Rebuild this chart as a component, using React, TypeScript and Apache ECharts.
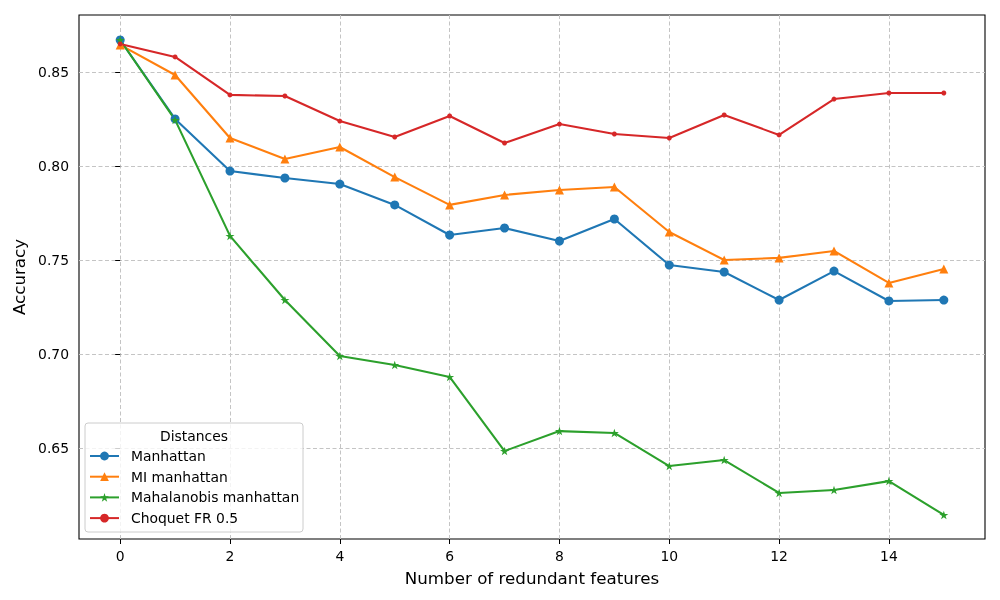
import React, { useEffect, useRef } from "react";
import * as echarts from "echarts";

const features = [0, 1, 2, 3, 4, 5, 6, 7, 8, 9, 10, 11, 12, 13, 14, 15];
const manhattan = [0.867, 0.825, 0.7973, 0.7936, 0.7904, 0.7793, 0.7633, 0.767, 0.7601, 0.7718, 0.7473, 0.7436, 0.7287, 0.7441, 0.7282, 0.7287];
const miManhattan = [0.8644, 0.8484, 0.8149, 0.8037, 0.8101, 0.7941, 0.7793, 0.7846, 0.7872, 0.7888, 0.7649, 0.75, 0.7511, 0.7548, 0.7378, 0.7452];
const mahalanobis = [0.867, 0.8245, 0.7628, 0.7287, 0.6989, 0.6941, 0.6878, 0.6484, 0.659, 0.658, 0.6404, 0.6436, 0.6261, 0.6277, 0.6324, 0.6144];
const choquet = [0.8649, 0.858, 0.8378, 0.8372, 0.8239, 0.8154, 0.8266, 0.8122, 0.8223, 0.817, 0.8149, 0.8271, 0.8165, 0.8356, 0.8388, 0.8388];
const xTicks = [0, 2, 4, 6, 8, 10, 12, 14];
const yTicks = [0.65, 0.7, 0.75, 0.8, 0.85];
const seriesNames = ["Manhattan", "MI manhattan", "Mahalanobis manhattan", "Choquet FR 0.5"];

const STAR = "path://M100 0 L122.45 69.1 L195.1 69.1 L136.3 111.8 L158.8 180.9 L100 138.2 L41.2 180.9 L63.7 111.8 L4.9 69.1 L77.55 69.1 Z";
const FONT = "DejaVu Sans";

export default function App() {
  const ref = useRef<HTMLDivElement>(null);
  useEffect(() => {
    if (!ref.current) return;
    const chart = echarts.init(ref.current, null, { renderer: "svg" });
    const pairs = (ys: number[]) => features.map((x, i) => [x, ys[i]]);
    const mk = (name: string, ys: number[], color: string, symbol: string, size: number) => ({
      name,
      type: "line",
      data: pairs(ys),
      symbol,
      symbolSize: size,
      symbolKeepAspect: true,
      showAllSymbol: true,
      lineStyle: { color, width: 2.1 },
      itemStyle: { color },
      emphasis: { disabled: true },
    });
    chart.setOption({
      animation: false,
      textStyle: { fontFamily: FONT },
      grid: { left: 79, right: 15, top: 15, bottom: 61, show: true, borderColor: "#000", borderWidth: 1.1, backgroundColor: "transparent" },
      xAxis: {
        type: "value",
        min: -0.75,
        max: 15.75,
        axisLine: { show: false },
        axisTick: { show: true, inside: false, length: 5, customValues: xTicks, lineStyle: { color: "#000" } },
        axisLabel: { customValues: xTicks, margin: 10, fontSize: 13.9, color: "#000", fontFamily: FONT },
        splitLine: { show: true, lineStyle: { color: "#c4c4c4", type: [4, 2.5], width: 1 } },
        name: "Number of redundant features",
        nameLocation: "middle",
        nameGap: 30,
        nameTextStyle: { fontSize: 16.7, color: "#000", fontFamily: FONT },
      },
      yAxis: {
        type: "value",
        min: 0.6016,
        max: 0.8803,
        axisLine: { show: false },
        axisTick: { show: true, inside: false, length: 5, customValues: yTicks, lineStyle: { color: "#000" } },
        axisLabel: { customValues: yTicks, margin: 10, fontSize: 13.9, color: "#000", fontFamily: FONT, formatter: (v: number) => v.toFixed(2) },
        splitLine: { show: true, lineStyle: { color: "#c4c4c4", type: [4, 2.5], width: 1 } },
        name: "Accuracy",
        nameLocation: "middle",
        nameGap: 49,
        nameRotate: 90,
        nameTextStyle: { fontSize: 16.7, color: "#000", fontFamily: FONT },
      },
      legend: {
        orient: "vertical",
        left: 89,
        top: 449,
        padding: 0,
        itemWidth: 29,
        itemHeight: 11,
        itemGap: 6.7,
        data: seriesNames,
        textStyle: { fontSize: 13.9, color: "#000", fontFamily: FONT, lineHeight: 14, padding: [0, 0, 0, 7] },
        z: 10,
      },
      graphic: [
        {
          type: "rect",
          shape: { x: 85, y: 423, width: 218, height: 109, r: 3 },
          style: { fill: "rgba(255,255,255,0.8)", stroke: "#cccccc", lineWidth: 1 },
          z: 5,
        },
        {
          type: "text",
          x: 194,
          y: 436,
          style: { text: "Distances", fontSize: 13.9, fill: "#000", fontFamily: FONT, align: "center", verticalAlign: "middle" },
          z: 6,
        },
      ],
      series: [
        mk(seriesNames[0], manhattan, "#1f77b4", "circle", 9),
        mk(seriesNames[1], miManhattan, "#ff7f0e", "triangle", 9),
        mk(seriesNames[2], mahalanobis, "#2ca02c", STAR, 9),
        mk(seriesNames[3], choquet, "#d62728", "circle", 5),
      ],
    });
    return () => chart.dispose();
  }, []);
  return <div ref={ref} style={{ position: "fixed", left: 0, top: 0, width: 1000, height: 600 }} />;
}
